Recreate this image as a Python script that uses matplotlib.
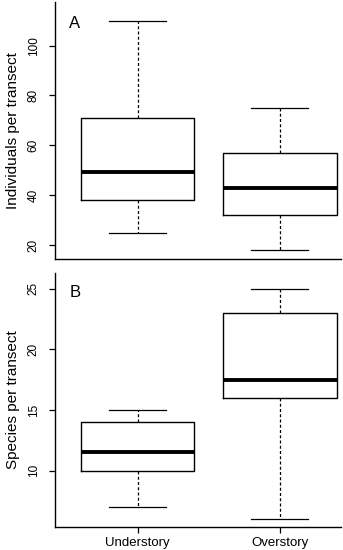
import matplotlib
matplotlib.use('Agg')
import matplotlib.pyplot as plt

plt.rcParams['font.family'] = ['Liberation Sans', 'DejaVu Sans']

# data
groups = ['Understory', 'Overstory']
positions = [1, 2]

# panel A: individuals per transect
ind_whislo = [25, 18]
ind_q1 = [38, 32]
ind_med = [49.5, 43]
ind_q3 = [71, 57]
ind_whishi = [110, 75]

# panel B: species per transect
sp_whislo = [7, 6]
sp_q1 = [10, 16]
sp_med = [11.5, 17.5]
sp_q3 = [14, 23]
sp_whishi = [15, 25]

ind_ticks = [20, 40, 60, 80, 100]
sp_ticks = [10, 15, 20, 25]


def make_stats(lo, q1, med, q3, hi):
    stats = []
    for i in range(len(lo)):
        stats.append({'whislo': lo[i], 'q1': q1[i], 'med': med[i],
                      'q3': q3[i], 'whishi': hi[i], 'fliers': []})
    return stats


def draw_panel(ax, stats, ticks, ylim, ylabel, letter, letter_y, show_x):
    ax.bxp(stats, positions=positions, widths=0.8, capwidths=0.4,
           showfliers=False,
           boxprops=dict(color='black', linewidth=1.0),
           medianprops=dict(color='black', linewidth=2.8,
                            solid_capstyle='butt'),
           whiskerprops=dict(color='black', linewidth=0.9,
                             linestyle=(0, (2.4, 1.8))),
           capprops=dict(color='black', linewidth=0.9))
    ax.set_xlim(0.42, 2.43)
    ax.set_ylim(*ylim)
    ax.set_yticks(ticks)
    ax.set_yticklabels([str(t) for t in ticks], rotation=90, va='center')
    ax.tick_params(axis='y', direction='out', length=4, width=0.9,
                   pad=7, labelsize=8.5)
    if show_x:
        ax.set_xticks(positions)
        ax.set_xticklabels(groups)
        ax.tick_params(axis='x', direction='out', length=4.5, width=0.9,
                       pad=3, labelsize=9.5)
    else:
        ax.set_xticks([])
    for side in ['top', 'right']:
        ax.spines[side].set_visible(False)
    for side in ['left', 'bottom']:
        ax.spines[side].set_linewidth(1.0)
    ax.set_ylabel(ylabel, fontsize=11)
    ax.yaxis.set_label_coords(-0.122, 0.5)
    ax.text(0.05, letter_y, letter, transform=ax.transAxes, fontsize=12,
            ha='left', va='baseline')


fig = plt.figure(figsize=(3.43, 5.5), dpi=100)
# axes placed in figure fractions to match the reference layout
ax_a = fig.add_axes([55 / 343, 1 - 259 / 550, 286 / 343, 257 / 550])
ax_b = fig.add_axes([55 / 343, 1 - 527 / 550, 286 / 343, 254 / 550])

draw_panel(ax_a, make_stats(ind_whislo, ind_q1, ind_med, ind_q3, ind_whishi),
           ind_ticks, (14.4, 117.5), 'Individuals per transect', 'A', 0.9,
           False)
draw_panel(ax_b, make_stats(sp_whislo, sp_q1, sp_med, sp_q3, sp_whishi),
           sp_ticks, (5.35, 26.3), 'Species per transect', 'B', 0.907,
           True)

fig.savefig('out.png', dpi=100)
plt.close(fig)
